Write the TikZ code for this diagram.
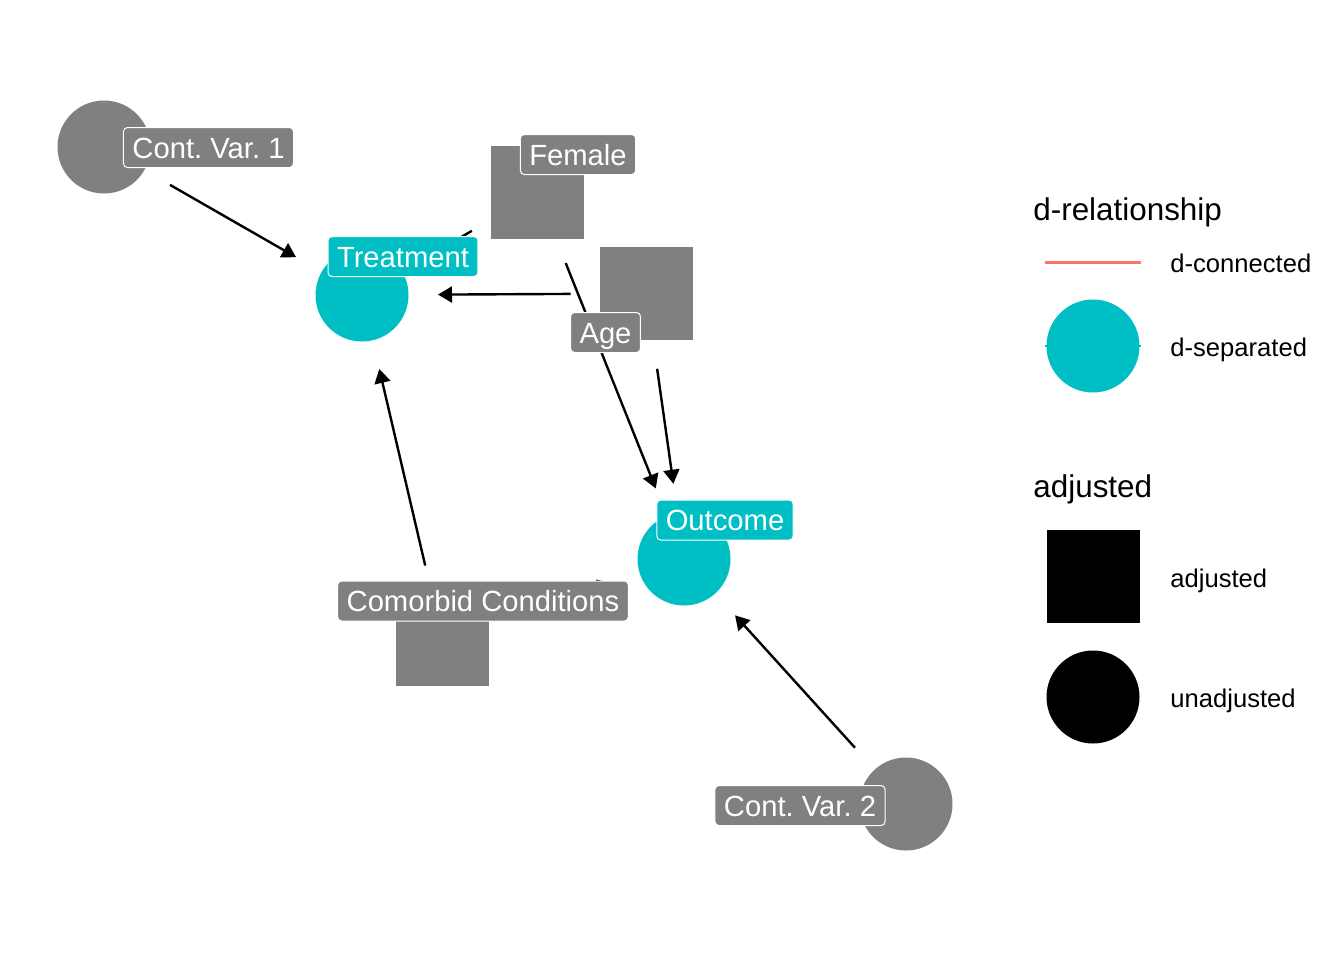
\documentclass[tikz,border=0pt]{standalone}
\usepackage{fontspec}
\setmainfont{Liberation Sans}
\usepackage{xcolor}
\usetikzlibrary{arrows.meta,positioning}
\definecolor{dagteal}{HTML}{00BFC4}
\definecolor{daggrey}{HTML}{808080}
\definecolor{dagred}{HTML}{F8766D}
\frenchspacing
\tikzset{
  dagcircle/.style={
    circle,
    fill=#1,
    minimum size=46.5pt,
    inner sep=0pt
  },
  dagsquare/.style={
    rectangle,
    fill=#1,
    minimum size=46.5pt,
    inner sep=0pt
  },
  daglabel/.style={
    rectangle,
    rounded corners=2pt,
    draw=white,
    line width=0.5pt,
    fill=#1,
    text=white,
    font=\fontsize{14.6}{17}\selectfont,
    inner xsep=4.5pt,
    inner ysep=0pt,
    minimum height=20pt,
    text height=10.5pt,
    text depth=0pt
  },
  dagarrow/.style={
    -{Triangle[length=7pt,width=8pt]},
    line width=1.2pt,
    draw=black,
    shorten >=38pt,
    shorten <=38pt
  },
  legtitle/.style={
    anchor=base west,
    inner sep=0pt,
    font=\fontsize{15.7}{19}\selectfont
  },
  legtext/.style={
    anchor=base west,
    inner sep=0pt,
    font=\fontsize{12.8}{15}\selectfont
  }
}

\begin{document}
\begin{tikzpicture}[x=0.5pt,y=-0.5pt]
\useasboundingbox (0,0) rectangle (1344,960);

\node[dagcircle=daggrey] (cvone) at (104,147) {};
\node[dagsquare=daggrey] (female) at (537.5,192.5) {};
\node[dagcircle=dagteal] (trt) at (362,295) {};
\node[dagsquare=daggrey] (age) at (646.5,293.5) {};
\node[dagcircle=dagteal] (outc) at (684,559) {};
\node[dagsquare=daggrey] (comorb) at (442.5,639.5) {};
\node[dagcircle=daggrey] (cvtwo) at (906,804) {};

\draw[dagarrow] (cvone.center) -- (trt.center);
\draw[dagarrow] (female.center) -- (trt.center);
\draw[dagarrow] (age.center) -- (trt.center);
\draw[dagarrow] (comorb.center) -- (trt.center);
\draw[dagarrow] (female.center) -- (outc.center);
\draw[dagarrow] (age.center) -- (outc.center);
\draw[dagarrow] (comorb.center) -- (outc.center);
\draw[dagarrow] (cvtwo.center) -- (outc.center);

\node[daglabel=daggrey] (cvonelab) at (208.5,147.5) {Cont. Var. 1};
\node[daglabel=daggrey] (femalelab) at (578,154.5) {Female};
\node[daglabel=dagteal] (trtlab) at (403,256.5) {Treatment};
\node[daglabel=daggrey] (agelab) at (605.5,332.5) {Age};
\node[daglabel=dagteal] (outclab) at (725,520) {Outcome};
\node[daglabel=daggrey] (comorblab) at (483,601) {Comorbid Conditions};
\node[daglabel=daggrey] (cvtwolab) at (800,805.5) {Cont. Var. 2};

\node[legtitle] (reltitle) at (1033,220) {d-relationship};
\coordinate (conkeyl) at (1045,262);
\coordinate (conkeyr) at (1141,262);
\draw[dagred, line width=1.5pt] (conkeyl) -- (conkeyr);
\node[legtext] (conlab) at (1170,272) {d-connected};
\coordinate (sepkeyl) at (1045,346);
\coordinate (sepkeyr) at (1141,346);
\draw[dagteal, line width=1pt] (sepkeyl) -- (sepkeyr);
\node[dagcircle=dagteal] (sepkey) at (1093,346) {};
\node[legtext] (seplab) at (1170,356) {d-separated};

\node[legtitle] (adjtitle) at (1033,497) {adjusted};
\node[dagsquare=black] (adjkey) at (1093.5,576.5) {};
\node[legtext] (adjlab) at (1170,587) {adjusted};
\node[dagcircle=black] (unadjkey) at (1093,697) {};
\node[legtext] (unadjlab) at (1170,707) {unadjusted};
\end{tikzpicture}
\end{document}
